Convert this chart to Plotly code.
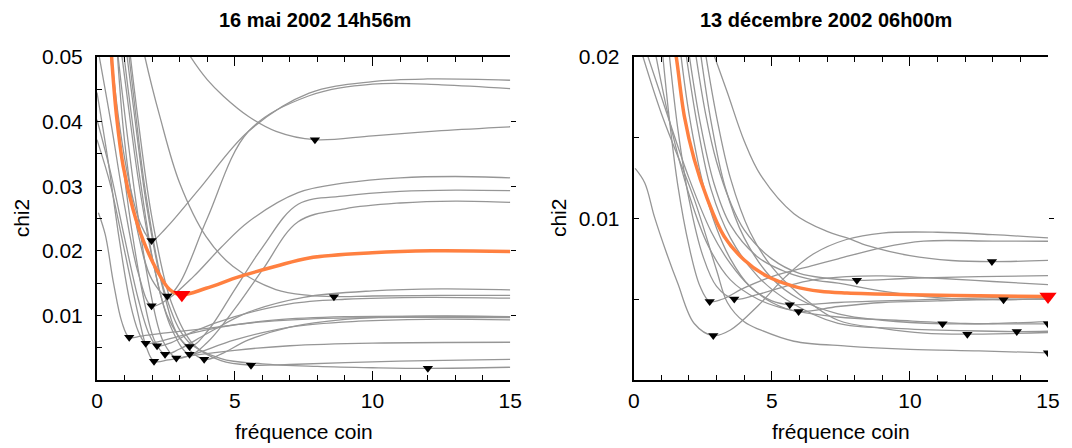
import plotly.graph_objects as go

# ---------------- Left panel: 16 mai 2002 14h56m ----------------
L_best_x = [0.45, 0.53, 0.71, 0.95, 1.31, 1.67, 2.16, 2.64, 3.08, 3.96, 5.17, 6.49, 7.7, 9.99, 12.15, 15]
L_best_y = [0.056, 0.050, 0.0408, 0.0331, 0.0264, 0.0217, 0.0171, 0.0140, 0.0132, 0.0142, 0.0160, 0.0176, 0.0189, 0.0197, 0.0200, 0.0199]

L01_x = [3.2, 3.4, 4.0, 4.6, 5.5, 6.5, 7.9, 10, 12.5, 15]
L01_y = [0.0515, 0.050, 0.0465, 0.0439, 0.0408, 0.0385, 0.0372, 0.0378, 0.0386, 0.0392]
L02_x = [0.3, 0.8, 1.2, 1.6, 1.98, 2.5, 3.7, 5.5, 7.7, 10, 12, 15]
L02_y = [0.060, 0.040, 0.030, 0.0240, 0.0216, 0.0235, 0.0295, 0.0385, 0.0444, 0.0462, 0.0466, 0.0464]
L03_x = [0.6, 1.0, 1.5, 2.0, 2.55, 3.0, 4.0, 5.5, 7.7, 10, 12.5, 15]
L03_y = [0.060, 0.037, 0.0225, 0.0155, 0.0130, 0.0150, 0.0250, 0.0385, 0.0440, 0.0458, 0.0457, 0.0451]
L04_x = [1.6, 1.74, 2.28, 3.0, 3.96, 4.93, 6.49, 7.7, 8.6, 10, 12.5, 15]
L04_y = [0.053, 0.050, 0.0408, 0.0305, 0.0222, 0.0176, 0.0140, 0.0131, 0.0129, 0.0130, 0.0131, 0.0131]
L05_x = [0, 0.5, 1, 1.5, 1.98, 2.5, 3.5, 4.5, 5.5, 7.3, 9, 11, 13, 15]
L05_y = [0.052, 0.040, 0.027, 0.0165, 0.0115, 0.0123, 0.0160, 0.0205, 0.0245, 0.0290, 0.0305, 0.0313, 0.0315, 0.0313]
L06_x = [0.05, 0.3, 0.6, 0.9, 1.17, 1.6, 2.5, 4, 6, 8, 11, 15]
L06_y = [0.0259, 0.0225, 0.0150, 0.0090, 0.0066, 0.0068, 0.0073, 0.0080, 0.0090, 0.0095, 0.0097, 0.00966]
L07_x = [0, 0.4, 0.8, 1.2, 1.5, 1.77, 2.2, 3, 4.5, 6.5, 9, 12, 15]
L07_y = [0.0445, 0.034, 0.022, 0.012, 0.0075, 0.0057, 0.0059, 0.0068, 0.0082, 0.0093, 0.0098, 0.0099, 0.0098]
L08_x = [0, 0.5, 1, 1.5, 1.9, 2.18, 2.7, 3.5, 5, 7, 9, 12, 15]
L08_y = [0.0403, 0.032, 0.022, 0.0125, 0.0070, 0.0053, 0.0058, 0.0075, 0.0098, 0.0118, 0.0125, 0.0128, 0.01266]
L09_x = [0, 0.5, 1, 1.5, 1.8, 2.07, 2.6, 3.5, 5, 7, 10, 15]
L09_y = [0.0372, 0.030, 0.020, 0.0100, 0.0050, 0.0029, 0.0031, 0.0038, 0.0046, 0.0053, 0.0057, 0.00584]
L10_x = [0.3, 0.7, 1.2, 1.7, 2.1, 2.47, 3, 4, 5.5, 7.5, 10, 12.5, 15]
L10_y = [0.058, 0.042, 0.025, 0.0125, 0.0060, 0.0040, 0.0048, 0.0072, 0.0105, 0.0128, 0.0138, 0.0141, 0.01395]
L11_x = [0.5, 0.9, 1.4, 1.9, 2.4, 2.88, 3.5, 5, 7, 9.5, 12, 15]
L11_y = [0.060, 0.045, 0.028, 0.0145, 0.0060, 0.0034, 0.0040, 0.0062, 0.0082, 0.0091, 0.0094, 0.0093]
L12_x = [0.6, 1, 1.5, 2, 2.6, 3.36, 4, 5, 6, 7.3, 9, 11, 13, 15]
L12_y = [0.060, 0.047, 0.031, 0.019, 0.0095, 0.0052, 0.0075, 0.0140, 0.0205, 0.0272, 0.0285, 0.0292, 0.0294, 0.0293]
L13_x = [0.7, 1.1, 1.6, 2.1, 2.7, 3.36, 4, 5, 6, 7.3, 9, 11, 13, 15]
L13_y = [0.060, 0.046, 0.030, 0.017, 0.0080, 0.0040, 0.0058, 0.0110, 0.0170, 0.0245, 0.0265, 0.0274, 0.0277, 0.0275]
L14_x = [0.8, 1.3, 1.8, 2.4, 3, 3.89, 4.5, 5.5, 7, 9, 12, 15]
L14_y = [0.060, 0.043, 0.027, 0.0140, 0.0065, 0.0032, 0.0040, 0.0062, 0.0082, 0.0094, 0.0099, 0.0098]
L15_x = [1, 1.5, 2, 2.7, 3.5, 4.5, 5.59, 7, 9, 12, 15]
L15_y = [0.058, 0.040, 0.025, 0.0120, 0.0055, 0.0030, 0.0023, 0.0024, 0.0027, 0.0030, 0.0032]
L16_x = [0.9, 1.3, 1.8, 2.5, 3.3, 4.5, 6, 8, 10, 12.01, 15]
L16_y = [0.060, 0.045, 0.028, 0.0130, 0.0060, 0.0033, 0.0025, 0.0021, 0.0019, 0.0018, 0.00197]

L_min_x = [1.98, 2.55, 1.98, 1.17, 1.77, 2.18, 3.36, 2.47, 3.36, 2.07, 2.88, 3.89, 5.59, 7.91, 8.6, 12.01]
L_min_y = [0.0216, 0.0130, 0.0115, 0.0066, 0.0057, 0.0053, 0.0052, 0.0040, 0.0040, 0.0029, 0.0034, 0.0032, 0.0023, 0.0372, 0.0129, 0.0018]
L_bestmin_x = [3.08]
L_bestmin_y = [0.0132]

# ---------------- Right panel: 13 décembre 2002 06h00m ----------------
R_best_x = [1.4, 1.53, 1.83, 2.19, 2.67, 3.27, 3.99, 4.83, 5.8, 6.75, 7.72, 10, 12.5, 15]
R_best_y = [0.0212, 0.0201, 0.01635, 0.01366, 0.01118, 0.0089, 0.00745, 0.00642, 0.0058, 0.00549, 0.00538, 0.00528, 0.00522, 0.00517]

R01_x = [0.05, 0.4, 0.75, 1.2, 1.59, 2.19, 2.88, 3.5, 4.5, 5.5, 6.5, 7.7, 9, 11, 13, 15]
R01_y = [0.0131, 0.0122, 0.0101, 0.0078, 0.0060, 0.0035, 0.00275, 0.0031, 0.0046, 0.0064, 0.0078, 0.0087, 0.0091, 0.00915, 0.0090, 0.0088]
R02_x = [1.05, 1.3, 1.6, 2, 2.4, 2.75, 3.2, 4, 5, 6.5, 7.4, 9, 10.5, 13, 15]
R02_y = [0.0201, 0.0160, 0.0120, 0.0083, 0.0058, 0.00486, 0.0050, 0.0057, 0.0064, 0.0071, 0.0075, 0.0082, 0.0086, 0.0086, 0.00859]
R03_x = [1.29, 1.6, 2, 2.5, 3, 3.64, 4.5, 5.5, 6.5, 7.7, 9, 11, 13, 15]
R03_y = [0.0201, 0.0155, 0.0112, 0.0077, 0.0058, 0.00501, 0.0053, 0.0058, 0.0062, 0.0064, 0.00645, 0.0063, 0.0061, 0.0059]
R04_x = [1.71, 2, 2.5, 3, 3.5, 4.2, 5, 5.65, 6.5, 7.4, 9, 11, 13, 15]
R04_y = [0.0201, 0.0165, 0.0122, 0.0094, 0.0075, 0.0058, 0.0049, 0.00466, 0.0047, 0.0048, 0.0049, 0.0050, 0.0051, 0.0051]
R05_x = [2.01, 2.4, 2.9, 3.5, 4.5, 5.5, 6.5, 7.4, 9, 11, 13.39, 15]
R05_y = [0.0201, 0.0160, 0.0122, 0.0096, 0.0076, 0.0067, 0.0062, 0.0060, 0.0055, 0.0051, 0.00497, 0.00505]
R06_x = [2.25, 2.6, 3, 3.5, 4, 5, 6, 7, 8.08, 10, 12.5, 15]
R06_y = [0.0201, 0.0165, 0.0135, 0.0110, 0.0093, 0.0075, 0.0066, 0.0063, 0.00617, 0.0063, 0.0064, 0.00646]
R07_x = [2.91, 3.39, 4, 4.59, 5.8, 7, 7.72, 8.5, 10, 11.5, 12.97, 15]
R07_y = [0.0201, 0.0178, 0.0148, 0.0127, 0.0103, 0.0092, 0.0088, 0.0083, 0.0077, 0.0074, 0.00733, 0.00741]
R08_x = [0.5, 1.2, 2, 2.8, 3.5, 4.2, 5, 5.97, 7.4, 9, 11, 13, 15]
R08_y = [0.0201, 0.0165, 0.0125, 0.0092, 0.0072, 0.0058, 0.0048, 0.00424, 0.00455, 0.0048, 0.0049, 0.0050, 0.0050]
R09_x = [0.32, 1, 2.19, 3, 3.39, 4, 4.59, 5.8, 7.72, 10, 12.5, 15]
R09_y = [0.0201, 0.0165, 0.0112, 0.0068, 0.0048, 0.0036, 0.0031, 0.0024, 0.0021, 0.0019, 0.0018, 0.00168]
R10_x = [2.43, 2.8, 3.3, 4, 5, 6, 7.4, 9, 11.18, 13, 15]
R10_y = [0.0201, 0.0160, 0.0120, 0.0088, 0.0063, 0.0050, 0.0041, 0.0037, 0.00348, 0.0035, 0.00362]
R11_x = [2.61, 3, 3.5, 4.2, 5, 6, 7.4, 9, 10.5, 12.08, 15]
R11_y = [0.0201, 0.0163, 0.0125, 0.0092, 0.0070, 0.0053, 0.0037, 0.0032, 0.0029, 0.00284, 0.00294]
R12_x = [1.9, 2.3, 2.8, 3.5, 4.5, 5.5, 7.4, 9.5, 12, 13.87, 15]
R12_y = [0.0201, 0.0158, 0.0118, 0.0088, 0.0064, 0.0050, 0.0035, 0.0032, 0.00305, 0.0030, 0.00302]
R13_x = [0.8, 1.3, 2, 2.7, 3.5, 4.5, 5.5, 7.4, 9.5, 12, 15]
R13_y = [0.0201, 0.0160, 0.0115, 0.0083, 0.0062, 0.0050, 0.0044, 0.0039, 0.0037, 0.0035, 0.00348]

R_min_x = [2.75, 3.64, 2.88, 5.65, 5.97, 8.08, 12.97, 13.39, 11.18, 12.08, 13.87, 15, 15]
R_min_y = [0.00486, 0.00501, 0.00275, 0.00466, 0.00424, 0.00617, 0.00733, 0.00497, 0.00348, 0.00284, 0.0030, 0.00348, 0.00168]
R_bestmin_x = [15]
R_bestmin_y = [0.00517]

titles = ["16 mai 2002 14h56m", "13 décembre 2002 06h00m"]
x_title = "fréquence coin"
y_title = "chi2"
x_ticks = [0, 5, 10, 15]
L_yticks = [0, 0.01, 0.02, 0.03, 0.04, 0.05]
L_yticktext = ["", "0.01", "0.02", "0.03", "0.04", "0.05"]
R_yticks = [0, 0.01, 0.02]
R_yticktext = ["", "0.01", "0.02"]

GRAY = "rgb(150,150,150)"
ORANGE = "rgb(255,128,64)"
FONT = "Liberation Sans, Arial, sans-serif"

left_gray = [(L01_x, L01_y), (L02_x, L02_y), (L03_x, L03_y), (L04_x, L04_y), (L05_x, L05_y),
             (L06_x, L06_y), (L07_x, L07_y), (L08_x, L08_y), (L09_x, L09_y), (L10_x, L10_y),
             (L11_x, L11_y), (L12_x, L12_y), (L13_x, L13_y), (L14_x, L14_y), (L15_x, L15_y),
             (L16_x, L16_y)]
right_gray = [(R01_x, R01_y), (R02_x, R02_y), (R03_x, R03_y), (R04_x, R04_y), (R05_x, R05_y),
              (R06_x, R06_y), (R07_x, R07_y), (R08_x, R08_y), (R09_x, R09_y), (R10_x, R10_y),
              (R11_x, R11_y), (R12_x, R12_y), (R13_x, R13_y)]

fig = go.Figure()


def add_panel(gray, best, mins, bestmin, xa, ya):
    for cx, cy in gray:
        fig.add_trace(go.Scatter(x=cx, y=cy, mode="lines", xaxis=xa, yaxis=ya,
                                 line=dict(color=GRAY, width=1.3, shape="spline", smoothing=1.0),
                                 hoverinfo="skip", showlegend=False))
    fig.add_trace(go.Scatter(x=best[0], y=best[1], mode="lines", xaxis=xa, yaxis=ya,
                             line=dict(color=ORANGE, width=3.5, shape="spline", smoothing=1.0),
                             showlegend=False))
    fig.add_trace(go.Scatter(x=mins[0], y=mins[1], mode="markers", xaxis=xa, yaxis=ya,
                             marker=dict(symbol="triangle-down", size=9, color="black"),
                             showlegend=False))
    fig.add_trace(go.Scatter(x=bestmin[0], y=bestmin[1], mode="markers", xaxis=xa, yaxis=ya,
                             marker=dict(symbol="triangle-down", size=15, color="red"),
                             showlegend=False, cliponaxis=False))


add_panel(left_gray, (L_best_x, L_best_y), (L_min_x, L_min_y), (L_bestmin_x, L_bestmin_y), "x", "y")
add_panel(right_gray, (R_best_x, R_best_y), (R_min_x, R_min_y), (R_bestmin_x, R_bestmin_y), "x2", "y2")
# dummy traces so overlay axes are drawn
fig.add_trace(go.Scatter(x=[None], y=[None], xaxis="x3", yaxis="y3", showlegend=False, hoverinfo="skip"))
fig.add_trace(go.Scatter(x=[None], y=[None], xaxis="x4", yaxis="y4", showlegend=False, hoverinfo="skip"))

# page body has an 8px margin: figure drawn at (8, 8)
OFF = 8
W, H = 1072 - OFF, 448 - OFF
ml, mt = 97 - OFF, 57 - OFF
mr = W - (1052 - OFF)
mb = H - (380 - OFF)
pw = W - ml - mr
ph = H - mt - mb
dom1 = [0, (512 - 97) / pw]
dom2 = [(636 - 97) / pw, 1]

tickfont = dict(family=FONT, size=21, color="black")


def xax(domain, anchor, top=False, overlay=None):
    d = dict(domain=domain, anchor=anchor, range=[0, 15], showgrid=False, zeroline=False,
             showline=True, linecolor="black", linewidth=2, mirror=False,
             ticks="inside", ticklen=9, tickwidth=1, tickcolor="black",
             tickmode="array", tickvals=x_ticks,
             minor=dict(tickmode="array", tickvals=list(range(16)), ticks="inside", ticklen=5,
                        tickcolor="black", tickwidth=1, showgrid=False),
             tickfont=tickfont, ticklabelstandoff=1, fixedrange=True)
    if top:
        d.update(side="top", overlaying=overlay, showticklabels=False)
    return d


def yax(domain_anchor, rng, tv, tt, minor_vals):
    return dict(anchor=domain_anchor, domain=[0, 1], range=rng, showgrid=False, zeroline=False,
                showline=True, linecolor="black", linewidth=2,
                ticks="inside", ticklen=5, tickwidth=1, tickcolor="black",
                tickmode="array", tickvals=tv, ticktext=tt,
                minor=dict(tickmode="array", tickvals=minor_vals, ticks="inside", ticklen=5,
                           tickcolor="black", tickwidth=1, showgrid=False),
                tickfont=tickfont, ticklabelstandoff=8, fixedrange=True)


def yright(anchor, overlay, rng, tv):
    return dict(anchor=anchor, overlaying=overlay, side="right", range=rng, showgrid=False,
                zeroline=False, showline=False, ticks="outside", ticklen=5, tickwidth=1,
                tickcolor="black", tickmode="array", tickvals=tv, showticklabels=False,
                fixedrange=True)


fig.update_layout(
    width=W, height=H,
    margin=dict(l=ml, r=mr, t=mt, b=mb, pad=0),
    paper_bgcolor="white", plot_bgcolor="white",
    showlegend=False,
    xaxis=xax(dom1, "y"),
    xaxis2=xax(dom2, "y2"),
    xaxis3=xax(dom1, "y", top=True, overlay="x"),
    xaxis4=xax(dom2, "y2", top=True, overlay="x2"),
    yaxis=yax("x", [0, 0.05], L_yticks, L_yticktext, [0.005, 0.015, 0.025, 0.035, 0.045]),
    yaxis2=yax("x2", [0, 0.02], R_yticks, R_yticktext, [0.005, 0.015]),
    yaxis3=yright("x", "y", [0, 0.05], [0.01, 0.02, 0.03, 0.04]),
    yaxis4=yright("x2", "y2", [0, 0.02], [0.01]),
)


def px2paper_x(px):
    return (px - 97) / pw


def py2paper_y(py):
    return (380 - py) / ph


ann = []
for t, cx in zip(titles, [316, 829]):
    ann.append(dict(text="<b>" + t + "</b>", x=px2paper_x(cx), y=py2paper_y(20), xref="paper", yref="paper",
                    showarrow=False, xanchor="center", yanchor="middle",
                    font=dict(family=FONT, size=20, color="black")))
for cx in [305, 844]:
    ann.append(dict(text=x_title, x=px2paper_x(cx), y=py2paper_y(431), xref="paper", yref="paper",
                    showarrow=False, xanchor="center", yanchor="middle",
                    font=dict(family=FONT, size=21, color="black")))
for cx in [21, 560]:
    ann.append(dict(text=y_title, x=px2paper_x(cx), y=py2paper_y(218), xref="paper", yref="paper",
                    showarrow=False, xanchor="center", yanchor="middle", textangle=-90,
                    font=dict(family=FONT, size=21, color="black")))
fig.update_layout(annotations=ann)

fig.write_html("out.html")
